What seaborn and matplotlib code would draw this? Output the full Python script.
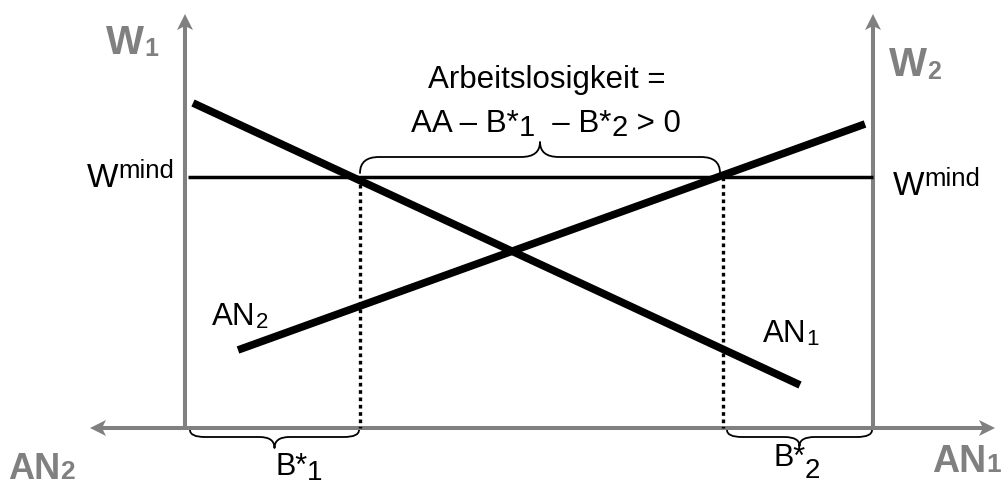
import numpy as np
import pandas as pd
import matplotlib
matplotlib.use("Agg")
import matplotlib.pyplot as plt
from matplotlib.path import Path
from matplotlib.patches import PathPatch, Polygon
import seaborn as sns

# Schema-Daten (Pixelraum des Diagramms, y nach unten)
an1_x = [193, 800]
an1_y = [103, 385]
an2_x = [238, 865]
an2_y = [350, 124]
wmind_x = [188, 873]
wmind_y = [177, 177]
b_stern_x = [360, 723]          # Beschaeftigung B*1 / B*2 bei Wmind
achse_links_x = 185
achse_rechts_x = 873
achse_unten_y = 428
achse_oben_y = 14
achse_h = [90, 995]

grau = "#808080"

sns.set_theme(style="white")
plt.rcParams['font.family'] = ['Liberation Sans', 'DejaVu Sans']


def rich(ax, x, y, parts, ha='left', color='black', weight='normal'):
    # setzt Text aus Stuecken (text, groesse, dy) nebeneinander
    r = ax.figure.canvas.get_renderer()
    texts = []
    cx = x
    for s, size, dy in parts:
        t = ax.text(cx, y + dy, s, fontsize=size, color=color, fontweight=weight,
                    va='baseline', ha='left')
        cx += t.get_window_extent(r).width
        texts.append(t)
    if ha == 'center':
        shift = (cx - x) / 2
        for t in texts:
            px, py = t.get_position()
            t.set_x(px - shift)


def klammer(ax, x0, x1, y0, ymid, ytip, r=16):
    xm = (x0 + x1) / 2
    verts = [(x0, y0), (x0, ymid), (x0 + r, ymid),
             (xm - r, ymid),
             (xm, ymid), (xm, ytip),
             (xm, ymid), (xm + r, ymid),
             (x1 - r, ymid),
             (x1, ymid), (x1, y0)]
    codes = [Path.MOVETO, Path.CURVE3, Path.CURVE3,
             Path.LINETO,
             Path.CURVE3, Path.CURVE3,
             Path.CURVE3, Path.CURVE3,
             Path.LINETO,
             Path.CURVE3, Path.CURVE3]
    ax.add_patch(PathPatch(Path(verts, codes), fill=False, lw=1.3, color='black',
                           capstyle='round', joinstyle='round'))


def pfeil(ax, start, tip, length=16, width=16, notch=4):
    start = np.array(start, float)
    tip = np.array(tip, float)
    d = (tip - start) / np.linalg.norm(tip - start)
    n = np.array([-d[1], d[0]])
    base = tip - d * (length - notch)
    ax.plot([start[0], base[0]], [start[1], base[1]], color=grau, lw=2.9,
            solid_capstyle='butt')
    pts = [tip, tip - d * length + n * width / 2, base, tip - d * length - n * width / 2]
    ax.add_patch(Polygon(pts, closed=True, color=grau, lw=0))


fig = plt.figure(figsize=(10.08, 4.87), dpi=100)
ax = fig.add_axes([0, 0, 1, 1])

# Achsen mit Pfeilen
pfeil(ax, (achse_links_x, achse_unten_y), (achse_links_x, achse_oben_y))
pfeil(ax, (achse_rechts_x, achse_unten_y), (achse_rechts_x, achse_oben_y))
mitte = (achse_links_x + achse_rechts_x) / 2
pfeil(ax, (mitte, achse_unten_y), (achse_h[0], achse_unten_y))
pfeil(ax, (mitte, achse_unten_y), (achse_h[1], achse_unten_y))

# Mindestlohn
ax.plot(wmind_x, wmind_y, color='black', lw=2.5, solid_capstyle='butt')

# Nachfragekurven
df = pd.DataFrame({
    'x': an1_x + an2_x,
    'y': an1_y + an2_y,
    'kurve': ['AN1'] * 2 + ['AN2'] * 2,
})
sns.lineplot(data=df, x='x', y='y', hue='kurve', palette=['black', 'black'],
             linewidth=5.5, legend=False, sort=False, estimator=None, ax=ax)
for ln in ax.lines[-2:]:
    ln.set_solid_capstyle('butt')

# gepunktete Linien
ax.vlines(b_stern_x, wmind_y[0], achse_unten_y, colors='black', lw=2.4,
          linestyles=(0, (1.1, 1.1)))

# Klammern
klammer(ax, 190, 359, 430, 437, 448, r=15)
klammer(ax, 727, 872, 430, 437, 446, r=15)
klammer(ax, 360, 720, 173, 157, 142, r=19)

# Beschriftungen
rich(ax, 547, 88, [("Arbeitslosigkeit =", 22.5, 0)], ha='center')
rich(ax, 546, 132, [("AA \u2013 B*", 22.5, 0), ("1", 21, 4), ("  \u2013 B*", 22.5, 0),
                    ("2", 21, 4), (" > 0", 22.5, 0)], ha='center')
rich(ax, 106, 54, [("W", 29, 0), ("1", 18, 2)], color=grau, weight='bold')
rich(ax, 889, 76, [("W", 29, 0), ("2", 18, 3)], color=grau, weight='bold')
rich(ax, 8, 479, [("AN", 26, 0), ("2", 19, 0)], color=grau, weight='bold')
rich(ax, 932, 472, [("AN", 27, 0), ("1", 19, 0)], color=grau, weight='bold')
rich(ax, 87, 187, [("W", 24, 0), ("mind", 18.5, -9)])
rich(ax, 893, 195, [("W", 24, 0), ("mind", 18.5, -9)])
rich(ax, 212, 325, [("AN", 22.5, 0), ("2", 16, 3)])
rich(ax, 763, 342, [("AN", 22.5, 0), ("1", 16, 3)])
rich(ax, 275, 475, [("B*", 22, 0), ("1", 20, 5)])
rich(ax, 773, 466, [("B*", 22, 0), ("2", 20, 12)])

ax.set_xlim(0, 1008)
ax.set_ylim(487, 0)
ax.set_axis_off()

fig.savefig("out.png", dpi=100)
